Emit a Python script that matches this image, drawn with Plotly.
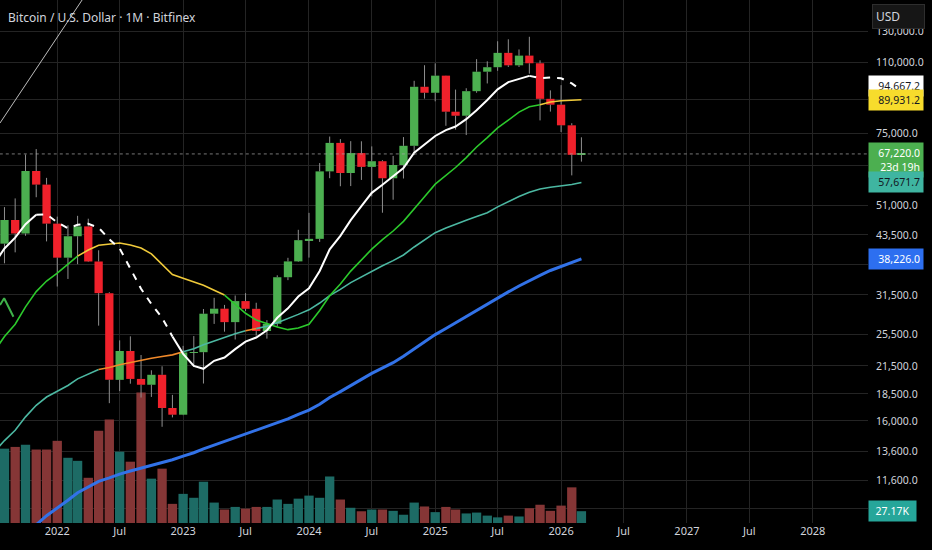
import math
import plotly.graph_objects as go

# Monthly bars, Bitfinex BTCUSD (bar time = first day of month)
months = [
    '2021-07-01', '2021-08-01', '2021-09-01', '2021-10-01', '2021-11-01', '2021-12-01',
    '2022-01-01', '2022-02-01', '2022-03-01', '2022-04-01', '2022-05-01', '2022-06-01',
    '2022-07-01', '2022-08-01', '2022-09-01', '2022-10-01', '2022-11-01', '2022-12-01',
    '2023-01-01', '2023-02-01', '2023-03-01', '2023-04-01', '2023-05-01', '2023-06-01',
    '2023-07-01', '2023-08-01', '2023-09-01', '2023-10-01', '2023-11-01', '2023-12-01',
    '2024-01-01', '2024-02-01', '2024-03-01', '2024-04-01', '2024-05-01', '2024-06-01',
    '2024-07-01', '2024-08-01', '2024-09-01', '2024-10-01', '2024-11-01', '2024-12-01',
    '2025-01-01', '2025-02-01', '2025-03-01', '2025-04-01', '2025-05-01', '2025-06-01',
    '2025-07-01', '2025-08-01', '2025-09-01', '2025-10-01', '2025-11-01', '2025-12-01',
    '2026-01-01', '2026-02-01', '2026-03-01',
]
opens = [
    35040, 41490, 47130, 43820, 61320, 57000,
    46210, 38480, 43180, 45530, 37700, 31800,
    19950, 23300, 20050, 19430, 20500, 17150,
    16540, 23120, 23150, 28470, 29250, 27210,
    30470, 29230, 25940, 26970, 34640, 37720,
    42280, 42580, 61200, 71330, 60660, 67530,
    62700, 64640, 58980, 63330, 70220, 96450,
    93400, 102400, 84350, 82550, 94200, 104600,
    107150, 115750, 108250, 114050, 109450, 90400,
    87600, 78400, 66900,
]
highs = [
    42450, 50500, 52920, 67000, 69000, 59100,
    47990, 45800, 48190, 47450, 40040, 31960,
    24670, 25210, 22800, 21000, 21460, 18400,
    23950, 25250, 29200, 31010, 29850, 31400,
    31800, 30200, 27500, 35000, 38450, 44700,
    48970, 64000, 73800, 72800, 72000, 71950,
    70000, 65000, 66500, 73600, 99600, 108300,
    109400, 102500, 95000, 95700, 111900, 110600,
    123200, 124500, 117900, 126200, 111200, 94600,
    97300, 79300, 73500,
]
lows = [
    29300, 37330, 39600, 43290, 53260, 42000,
    32950, 34320, 37160, 37590, 26700, 17600,
    18780, 19540, 18140, 18200, 15500, 16300,
    16500, 21400, 19560, 26950, 25850, 24780,
    28870, 25300, 24900, 26550, 34100, 37600,
    38500, 41880, 59000, 56500, 56550, 58450,
    53500, 49000, 52550, 58900, 66800, 90500,
    89200, 78200, 76600, 74400, 93400, 98200,
    105100, 107300, 107300, 103500, 80500, 84400,
    75600, 59900, 64500,
]
closes = [
    41490, 47130, 43820, 61320, 57000, 46210,
    38480, 43180, 45530, 37700, 31800, 19950,
    23300, 20050, 19430, 20500, 17150, 16540,
    23120, 23150, 28470, 29250, 27210, 30470,
    29230, 25940, 26970, 34640, 37720, 42280,
    42580, 61200, 71330, 60660, 67530, 62700,
    64640, 58980, 63330, 70220, 96450, 93400,
    102400, 84350, 82550, 94200, 104600, 107150,
    115750, 108250, 114050, 109450, 90400, 87600,
    78400, 66900, 67220,
]
# volume, thousands of BTC
volume_k = [
    150, 171, 175, 180, 169, 169,
    189, 150, 143, 104, 212, 238,
    164, 141, 300, 102, 125, 44,
    67, 58, 95, 47, 31, 37,
    33, 37, 37, 54, 44, 56,
    63, 58, 107, 54, 35, 27,
    31, 31, 28, 19, 47, 38,
    25, 37, 31, 22, 24, 17,
    13, 17, 15, 34, 42, 28,
    40, 82, 27.17,
]

# moving averages of the close
sma10 = [
    37110, 40440, 42850, 46080, 48470, 48570,
    46540, 45090, 45910, 46180, 45210, 42490,
    40440, 36320, 32560, 29990, 27860, 25200,
    22950, 21500, 21170, 22100, 22490, 23530,
    24510, 25050, 26040, 27850, 29310, 31220,
    32630, 35820, 40240, 43260, 47090, 50760,
    54530, 56960, 59520, 62320, 67700, 70920,
    74030, 76400, 77900, 81050, 85050, 89870,
    95110, 98910, 100670, 102280, 101080, 101400,
    100990, 98260, 94667.2,
]
sma20 = [
    23180, 25175, 26900, 29540, 32070, 33945,
    35400, 37100, 38810, 40110, 41160, 41470,
    41650, 41200, 40520, 39280, 37200, 35140,
    34430, 33840, 33190, 32300, 31470, 29920,
    28540, 27520, 26950, 26520, 26130, 26360,
    26900, 28960, 31360, 33390, 35800, 37910,
    40280, 42400, 44410, 46770, 50170, 53370,
    57130, 59830, 62490, 65910, 69790, 73410,
    77320, 80610, 84190, 86600, 87550, 88900,
    89440, 89650, 89931.2,
]
sma50 = [
    13500, 14395, 15210, 16350, 17400, 18190,
    18760, 19350, 20060, 20600, 21100, 21320,
    21630, 21910, 22140, 22410, 22620, 22820,
    23200, 23590, 24090, 24600, 25060, 25570,
    25980, 26280, 26620, 27120, 27710, 28370,
    29070, 30150, 31390, 32440, 33660, 34740,
    35840, 36840, 37880, 39050, 40760, 42360,
    44010, 45120, 46110, 47090, 48000, 48990,
    50560, 52030, 53480, 54720, 55660, 56180,
    56610, 57020, 57671.7,
]
sma100 = [
    7060, 7530, 7960, 8580, 9150, 9610,
    10000, 10440, 10870, 11240, 11560, 11780,
    12020, 12220, 12410, 12600, 12780, 12980,
    13240, 13480, 13760, 14040, 14330, 14620,
    14920, 15200, 15480, 15790, 16170, 16580,
    16950, 17500, 18140, 18730, 19380, 20000,
    20650, 21250, 21880, 22650, 23560, 24480,
    25450, 26290, 27120, 28030, 29000, 29960,
    30980, 32010, 33040, 34060, 35000, 35920,
    36720, 37470, 38226.0,
]

last_price = 67220.0
time_left = '23d 19h'

# price scale levels; the ones hidden behind the price tags keep only their grid line
price_ticks = [10000, 11600, 13600, 16000, 18500, 21500, 25500, 31500, 37000,
               43500, 51000, 63000, 75000, 90000, 110000, 130000]
covered_ticks = [10000, 37000, 63000, 90000]
x_ticks = ['2022-01-01', '2022-07-01', '2023-01-01', '2023-07-01', '2024-01-01',
           '2024-07-01', '2025-01-01', '2025-07-01', '2026-01-01', '2026-07-01',
           '2027-01-01', '2027-07-01', '2028-01-01']
x_labels = ['2022', 'Jul', '2023', 'Jul', '2024', 'Jul', '2025', 'Jul', '2026',
            'Jul', '2027', 'Jul', '2028']

# hand-drawn lines on the chart (date, price)
trend_dates = ['2021-07-19', '2022-03-14']
trend_prices = [79370, 153800]
mark_dates = ['2021-07-19', '2021-07-31', '2021-08-27']
mark_prices = [29830, 30930, 28020]

# periods where each average is drawn in its second style
white_dashed = [('2021-11-01', '2022-12-01'), ('2025-10-01', '2026-03-01')]
sma20_yellow = [('2022-03-01', '2023-05-01'), ('2025-11-01', '2026-03-01')]
sma50_orange = [('2022-05-01', '2023-01-01'), ('2023-07-01', '2023-08-01')]

UP = '#4caf50'
DOWN = '#f0212b'
TEXT = '#d1d4dc'
GRID = '#242424'
FONT = 'Noto Sans'
DAY_MS = 86400000


def style_runs(dates, values, spans):
    """Cut a line into runs of segments that are inside / outside the spans."""
    inside = [any(s <= a and b <= e for s, e in spans)
              for a, b in zip(dates[:-1], dates[1:])]
    runs = []
    start = 0
    for i in range(1, len(inside) + 1):
        if i == len(inside) or inside[i] != inside[start]:
            runs.append((inside[start], dates[start:i + 1], values[start:i + 1]))
            start = i
    return runs


def add_ma(fig, values, spans, normal, other, width=1.6):
    for alt, xs, ys in style_runs(months, values, spans):
        line = dict(other if alt else normal)
        line.setdefault('width', width)
        fig.add_trace(go.Scatter(x=xs, y=ys, mode='lines', line=line,
                                 yaxis='y2', hoverinfo='skip'))


up = [c >= o for o, c in zip(opens, closes)]

fig = go.Figure()

# volume on the bottom layer
fig.add_trace(go.Bar(
    x=months, y=volume_k, yaxis='y',
    width=27 * DAY_MS,
    marker=dict(color=['#1d6b65' if u else '#853636' for u in up], line_width=0),
    hoverinfo='skip'
))

# candle bodies
fig.add_trace(go.Bar(
    x=months,
    y=[abs(c - o) for o, c in zip(opens, closes)],
    base=[min(o, c) for o, c in zip(opens, closes)],
    yaxis='y2', width=24 * DAY_MS,
    marker=dict(color=[UP if u else DOWN for u in up], line_width=0),
    hoverinfo='skip'
))

# wicks, above and below the body
wx, wy = [], []
for d, o, h, l, c in zip(months, opens, highs, lows, closes):
    wx += [d, d, None, d, d, None]
    wy += [h, max(o, c), None, min(o, c), l, None]
fig.add_trace(go.Scatter(x=wx, y=wy, mode='lines', yaxis='y2',
                         line=dict(color='#8f8f8f', width=1), hoverinfo='skip'))

fig.add_trace(go.Scatter(x=months, y=sma100, mode='lines', yaxis='y2',
                         line=dict(color='#3272e8', width=3), hoverinfo='skip'))
add_ma(fig, sma50, sma50_orange, dict(color='#4cb8a2'), dict(color='#f0892a'))
add_ma(fig, sma20, sma20_yellow, dict(color='#2cc92c'), dict(color='#f0ca3a'))
add_ma(fig, sma10, white_dashed, dict(color='#ffffff'),
       dict(color='#ffffff', dash='7px,7px'), width=2)

# last price line
fig.add_trace(go.Scatter(x=['2021-07-01', '2028-07-01'], y=[last_price, last_price],
                         mode='lines', yaxis='y2', hoverinfo='skip',
                         line=dict(color='rgba(170,170,170,0.7)', width=1, dash='dot')))

fig.add_trace(go.Scatter(x=trend_dates, y=trend_prices, mode='lines', yaxis='y2',
                         line=dict(color='#bdbdbd', width=1), hoverinfo='skip'))
fig.add_trace(go.Scatter(x=mark_dates, y=mark_prices, mode='lines', yaxis='y2',
                         line=dict(color='#3fb24a', width=2), hoverinfo='skip'))


def price_tag(value, text, bg, fg, shift=0):
    return dict(
        xref='paper', x=1, xanchor='left',
        yref='y2', y=math.log10(value), yanchor='middle', yshift=shift,
        text=text, showarrow=False, align='right', width=48, borderpad=3,
        bgcolor=bg, font=dict(family=FONT, size=10.5, color=fg)
    )


annotations = [
    dict(xref='paper', yref='paper', x=0, y=1, xanchor='left', yanchor='top',
         xshift=6, yshift=-7, showarrow=False,
         text='Bitcoin / U.S. Dollar · 1M · Bitfinex',
         font=dict(family=FONT, size=12, color=TEXT)),
    price_tag(sma10[-1], f'{sma10[-1]:,.1f}', '#ffffff', '#131722', shift=4),
    price_tag(sma20[-1], f'{sma20[-1]:,.1f}', '#f7dc2c', '#131722'),
    price_tag(last_price, f'{last_price:,.1f}<br>{time_left}', UP, '#ffffff', shift=-6),
    price_tag(sma50[-1], f'{sma50[-1]:,.1f}', '#3fb5a1', '#131722'),
    price_tag(sma100[-1], f'{sma100[-1]:,.1f}', '#2d6ff0', '#ffffff'),
    dict(xref='paper', x=1, xanchor='left', yref='y', y=volume_k[-1], yanchor='middle',
         text=f'{volume_k[-1]:.2f}K', showarrow=False, align='center', width=41,
         borderpad=3, bgcolor='#26a69a', font=dict(family=FONT, size=10.5, color='#ffffff')),
    dict(xref='paper', yref='paper', x=1, y=1, xanchor='left', yanchor='top',
         xshift=4, yshift=-4, showarrow=False, text='USD', align='left',
         width=45, height=17, borderpad=3, bgcolor='#161616',
         bordercolor='#2e2e2e', borderwidth=1,
         font=dict(family=FONT, size=12, color=TEXT)),
]

fig.update_layout(
    width=932, height=550,
    margin=dict(l=0, r=64, t=0, b=27),
    paper_bgcolor='#000000', plot_bgcolor='#000000',
    showlegend=False, barmode='overlay',
    font=dict(family=FONT, size=11, color=TEXT),
    xaxis=dict(
        type='date', range=['2021-07-19', '2028-06-09'],
        tickmode='array', tickvals=x_ticks, ticktext=x_labels,
        showgrid=True, gridcolor=GRID, gridwidth=1,
        zeroline=False, showline=False, ticks='', automargin=False,
        tickfont=dict(family=FONT, size=11, color=TEXT)
    ),
    yaxis=dict(range=[0, 1203], visible=False, fixedrange=True),
    yaxis2=dict(
        type='log', overlaying='y', side='right', anchor='x',
        range=[math.log10(9240), math.log10(153800)],
        tickmode='array', tickvals=price_ticks,
        ticktext=['' if v in covered_ticks else f'{v:,.1f}' for v in price_ticks],
        showgrid=True, gridcolor=GRID, gridwidth=1,
        zeroline=False, showline=False, ticks='', ticklabelstandoff=7,
        automargin=False,
        tickfont=dict(family=FONT, size=10.5, color=TEXT)
    ),
    annotations=annotations,
)

# the page is photographed from its top-left corner, so drop the body margin
fig.write_html('out.html', config={'displayModeBar': False},
               post_script="document.body.style.margin = '0';")
